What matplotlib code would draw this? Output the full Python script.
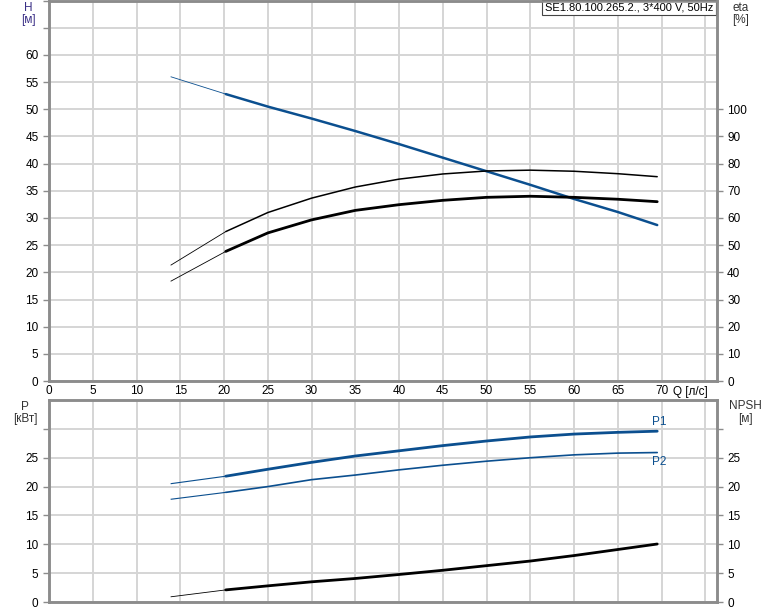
import matplotlib.pyplot as plt

plt.rcParams["font.family"] = ["Liberation Sans", "DejaVu Sans"]

q_flow = [13.9, 20.2, 25, 30, 35, 40, 45, 50, 55, 60, 65, 69.5]
head_m = [56.0, 52.8, 50.5, 48.3, 46.0, 43.6, 41.1, 38.6, 36.1, 33.5, 31.1, 28.7]
eta_pump = [42.6, 55.0, 62.0, 67.3, 71.4, 74.3, 76.2, 77.3, 77.6, 77.2, 76.3, 75.2]
eta_total = [36.7, 47.7, 54.5, 59.3, 62.8, 64.9, 66.5, 67.6, 68.0, 67.6, 66.9, 66.0]
p1_kw = [20.5, 21.8, 23.0, 24.2, 25.3, 26.2, 27.1, 27.9, 28.6, 29.1, 29.4, 29.6]
p2_kw = [17.8, 19.0, 20.0, 21.2, 22.0, 22.9, 23.7, 24.4, 25.0, 25.5, 25.8, 25.9]
npsh_m = [0.9, 2.1, 2.8, 3.5, 4.08, 4.77, 5.5, 6.3, 7.1, 8.05, 9.1, 10.05]

x_ticks = list(range(0, 75, 5))
h_ticks = list(range(0, 65, 5))
eta_ticks = list(range(0, 110, 10))
p_ticks = list(range(0, 30, 5))
npsh_ticks = list(range(0, 30, 5))

BLUE = "#0b4f8f"
GRID = "#d5d5d5"
SPINE = "#8c8c8c"
LABEL = "#3a2f86"


def style_axes(ax):
    for side in ("left", "right", "top", "bottom"):
        ax.spines[side].set_color(SPINE)
        ax.spines[side].set_linewidth(1.8)
    ax.tick_params(axis="both", labelsize=8.5, length=4, width=1, color=SPINE)


def two_part(ax, x, y, color, thin, thick):
    ax.plot(x[:2], y[:2], color=color, linewidth=thin, solid_capstyle="butt")
    ax.plot(x[1:], y[1:], color=color, linewidth=thick, solid_capstyle="round")


fig = plt.figure(figsize=(7.74, 6.11), dpi=100)
ax_h = fig.add_axes([0.0633, 0.3764, 0.8627, 0.6226])
ax_p = fig.add_axes([0.0633, 0.0147, 0.8627, 0.3306])

# top panel: head and efficiency
ax_h.set_xlim(0, 76.3)
ax_h.set_ylim(0, 70)
ax_h.set_xticks(x_ticks + [75])
ax_h.set_xticklabels([str(t) for t in x_ticks] + [""])
ax_h.set_yticks(h_ticks + [65, 70])
ax_h.set_yticklabels([str(t) for t in h_ticks] + ["", ""])
ax_h.grid(True, color=GRID, linewidth=1.4)
ax_h.set_axisbelow(True)
style_axes(ax_h)
ax_h.tick_params(axis="x", length=0, pad=3)

ax_eta = ax_h.twinx()
ax_eta.set_ylim(0, 140)
ax_eta.set_yticks(eta_ticks)
style_axes(ax_eta)

two_part(ax_h, q_flow, head_m, BLUE, 0.6, 1.8)
two_part(ax_eta, q_flow, eta_pump, "black", 0.6, 1.1)
two_part(ax_eta, q_flow, eta_total, "black", 0.6, 2.0)

ax_h.text(0.995, 0.995, "SE1.80.100.265.2., 3*400 V, 50Hz", transform=ax_h.transAxes,
          ha="right", va="top", fontsize=8,
          bbox=dict(boxstyle="square,pad=0.25", facecolor="white", edgecolor="#444444", linewidth=0.8))

fig.text(28 / 774, 1 - 8 / 611, "H", ha="center", va="center", fontsize=8.5, color=LABEL)
fig.text(28 / 774, 1 - 20 / 611, "[м]", ha="center", va="center", fontsize=8.5, color=LABEL)
fig.text(741 / 774, 1 - 8 / 611, "eta", ha="center", va="center", fontsize=8.5, color="#333333")
fig.text(741 / 774, 1 - 20 / 611, "[%]", ha="center", va="center", fontsize=8.5, color="#333333")
fig.text(690 / 774, 1 - 392 / 611, "Q [л/с]", ha="center", va="center", fontsize=8.5)

# bottom panel: power and NPSH
ax_p.set_xlim(0, 76.3)
ax_p.set_ylim(0, 35)
ax_p.set_xticks(x_ticks + [75])
ax_p.set_xticklabels([])
ax_p.set_yticks(p_ticks + [30])
ax_p.set_yticklabels([str(t) for t in p_ticks] + [""])
ax_p.grid(True, color=GRID, linewidth=1.4)
ax_p.set_axisbelow(True)
style_axes(ax_p)
ax_p.tick_params(axis="x", length=0)

ax_npsh = ax_p.twinx()
ax_npsh.set_ylim(0, 35)
ax_npsh.set_yticks(npsh_ticks + [30])
ax_npsh.set_yticklabels([str(t) for t in npsh_ticks] + [""])
style_axes(ax_npsh)

two_part(ax_p, q_flow, p1_kw, BLUE, 0.8, 2.0)
two_part(ax_p, q_flow, p2_kw, BLUE, 0.8, 1.2)
two_part(ax_npsh, q_flow, npsh_m, "black", 0.6, 2.0)

ax_p.text(q_flow[-1] + 0.2, p1_kw[-1] + 0.6, "P1", color=BLUE, fontsize=8.5, ha="center", va="bottom")
ax_p.text(q_flow[-1] + 0.2, p2_kw[-1] - 0.6, "P2", color=BLUE, fontsize=8.5, ha="center", va="top")

fig.text(25 / 774, 1 - 407 / 611, "P", ha="center", va="center", fontsize=8.5, color="#333333")
fig.text(25 / 774, 1 - 419 / 611, "[кВт]", ha="center", va="center", fontsize=8.5, color="#333333")
fig.text(745 / 774, 1 - 406 / 611, "NPSH", ha="center", va="center", fontsize=8.5, color="#333333")
fig.text(745 / 774, 1 - 419 / 611, "[м]", ha="center", va="center", fontsize=8.5, color="#333333")

fig.savefig("out.png", dpi=100)
plt.close(fig)
